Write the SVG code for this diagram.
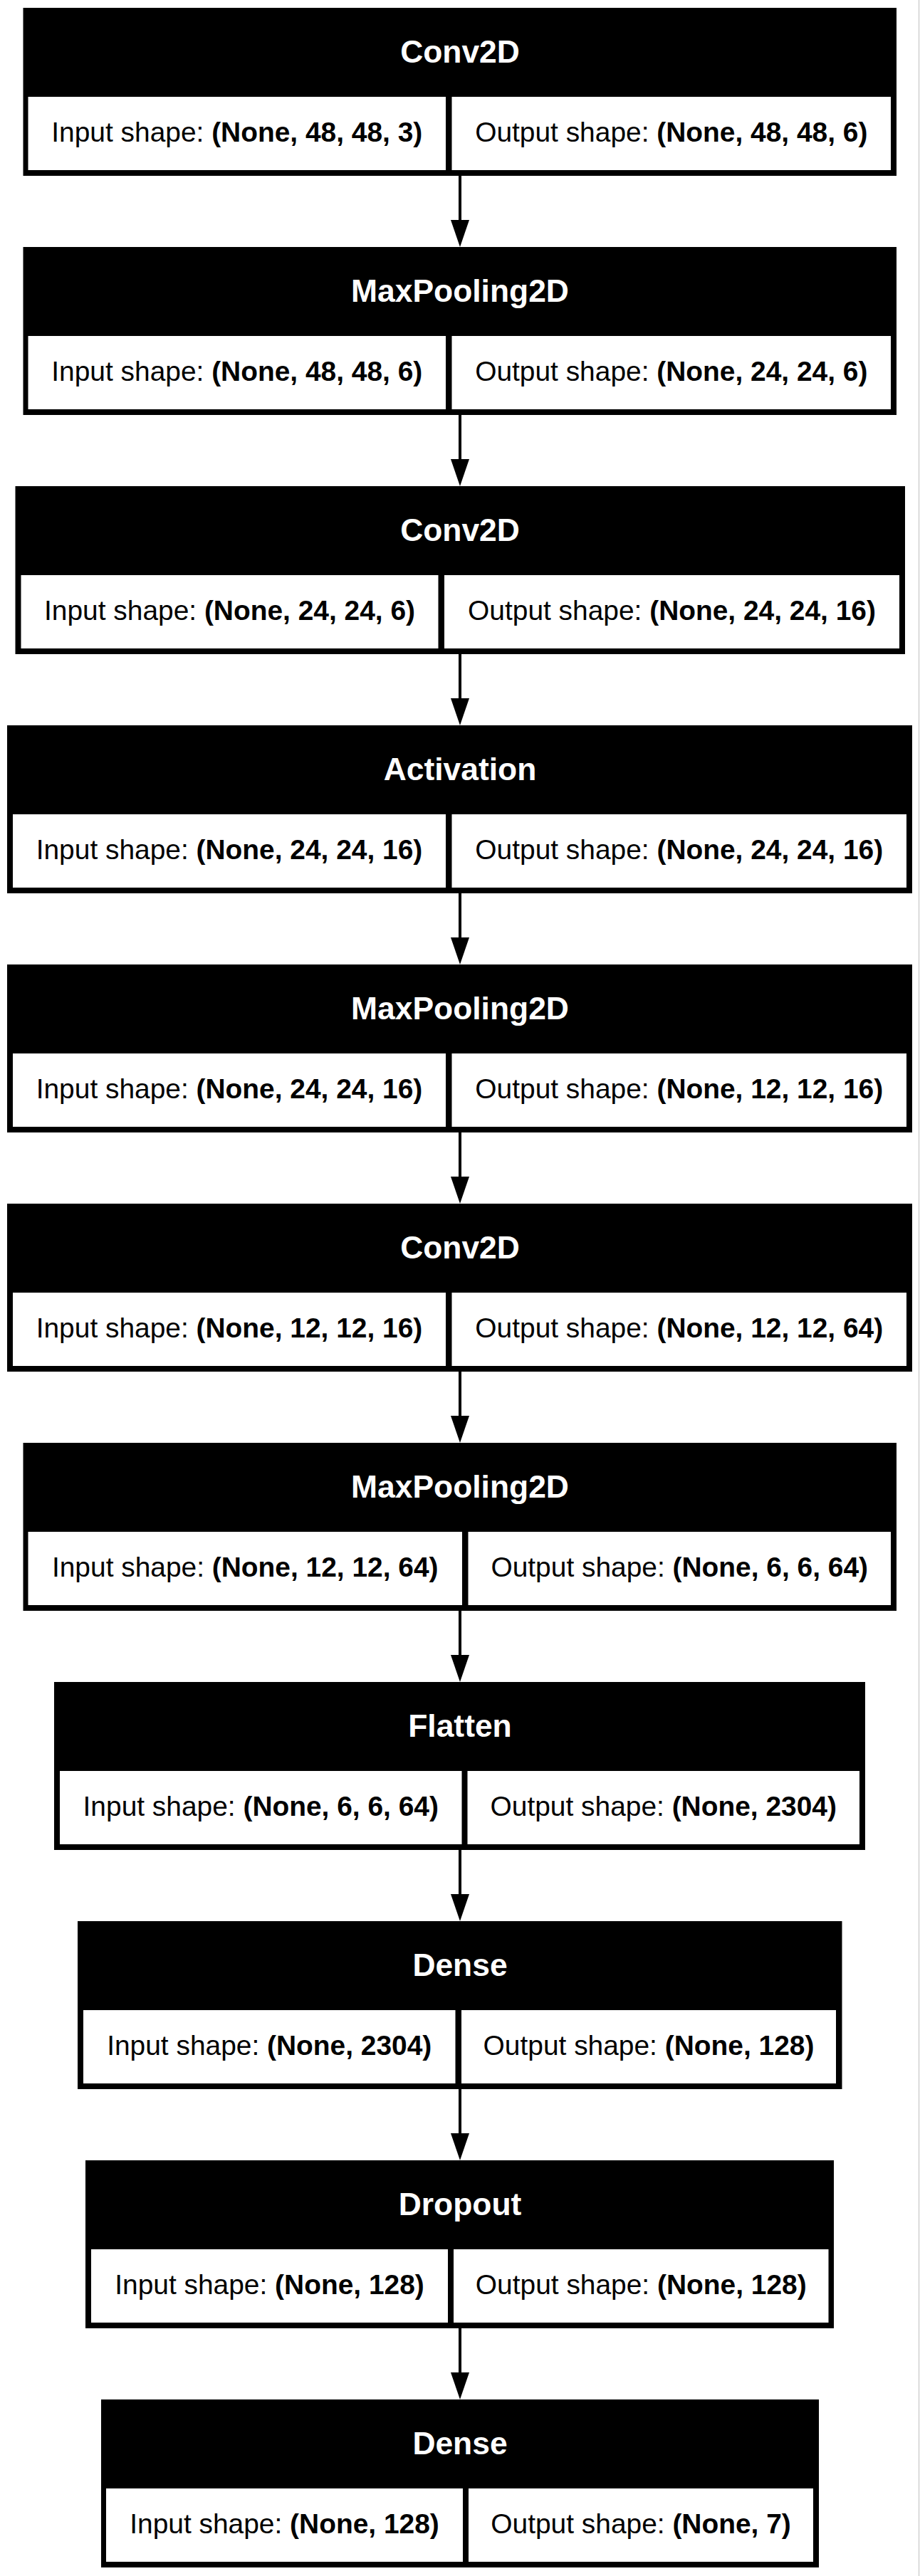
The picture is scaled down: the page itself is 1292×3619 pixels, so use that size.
<svg xmlns="http://www.w3.org/2000/svg" width="1292" height="3619" viewBox="0 0 1292 3619">
<style>
.outer{fill:#000}
.cell{fill:#fff}
.hdr{font-family:"Liberation Sans",Arial,Helvetica,sans-serif;font-size:44.4px;font-weight:bold;fill:#fff;text-anchor:middle}
.txt{font-family:"Liberation Sans",Arial,Helvetica,sans-serif;font-size:38.9px;fill:#000;text-anchor:middle}
.b{font-weight:bold}
.edge{stroke:#000;stroke-width:4;fill:none}
</style>
<defs>
<marker id="ah" markerUnits="userSpaceOnUse" markerWidth="38" markerHeight="26" refX="28" refY="13" orient="auto">
<path d="M0,0 L38,13 L0,26 Z" fill="#000"/>
</marker>
</defs>
<rect x="0" y="0" width="1292" height="3619" fill="#fff"/>
<line x1="1290.5" y1="0" x2="1290.5" y2="3619" stroke="#d0d0d0" stroke-width="1.5"/>
<g id="edges">
<line class="edge" x1="646" y1="247" x2="646" y2="337" marker-end="url(#ah)"/>
<line class="edge" x1="646" y1="583" x2="646" y2="673" marker-end="url(#ah)"/>
<line class="edge" x1="646" y1="919" x2="646" y2="1009" marker-end="url(#ah)"/>
<line class="edge" x1="646" y1="1255" x2="646" y2="1345" marker-end="url(#ah)"/>
<line class="edge" x1="646" y1="1591" x2="646" y2="1681" marker-end="url(#ah)"/>
<line class="edge" x1="646" y1="1927" x2="646" y2="2017" marker-end="url(#ah)"/>
<line class="edge" x1="646" y1="2263" x2="646" y2="2353" marker-end="url(#ah)"/>
<line class="edge" x1="646" y1="2599" x2="646" y2="2689" marker-end="url(#ah)"/>
<line class="edge" x1="646" y1="2935" x2="646" y2="3025" marker-end="url(#ah)"/>
<line class="edge" x1="646" y1="3271" x2="646" y2="3361" marker-end="url(#ah)"/>
</g>
<g id="node1" transform="translate(0,11)">
<rect class="outer" x="32.5" y="0" width="1226.5" height="236"/>
<rect class="cell" x="39.5" y="125" width="586.5" height="103"/>
<rect class="cell" x="634.5" y="125" width="616.5" height="103"/>
<text class="hdr" x="646" y="76.5">Conv2D</text>
<text class="txt" x="332.75" y="188">Input shape: <tspan class="b">(None, 48, 48, 3)</tspan></text>
<text class="txt" x="942.75" y="188">Output shape: <tspan class="b">(None, 48, 48, 6)</tspan></text>
</g>
<g id="node2" transform="translate(0,347)">
<rect class="outer" x="32.5" y="0" width="1226.5" height="236"/>
<rect class="cell" x="39.5" y="125" width="586.5" height="103"/>
<rect class="cell" x="634.5" y="125" width="616.5" height="103"/>
<text class="hdr" x="646" y="76.5">MaxPooling2D</text>
<text class="txt" x="332.75" y="188">Input shape: <tspan class="b">(None, 48, 48, 6)</tspan></text>
<text class="txt" x="942.75" y="188">Output shape: <tspan class="b">(None, 24, 24, 6)</tspan></text>
</g>
<g id="node3" transform="translate(0,683)">
<rect class="outer" x="21.5" y="0" width="1249.5" height="236"/>
<rect class="cell" x="29.5" y="125" width="586" height="103"/>
<rect class="cell" x="624" y="125" width="639" height="103"/>
<text class="hdr" x="646" y="76.5">Conv2D</text>
<text class="txt" x="322.5" y="188">Input shape: <tspan class="b">(None, 24, 24, 6)</tspan></text>
<text class="txt" x="943.5" y="188">Output shape: <tspan class="b">(None, 24, 24, 16)</tspan></text>
</g>
<g id="node4" transform="translate(0,1019)">
<rect class="outer" x="10" y="0" width="1271" height="236"/>
<rect class="cell" x="18" y="125" width="608" height="103"/>
<rect class="cell" x="634.5" y="125" width="638.5" height="103"/>
<text class="hdr" x="646" y="76.5">Activation</text>
<text class="txt" x="322" y="188">Input shape: <tspan class="b">(None, 24, 24, 16)</tspan></text>
<text class="txt" x="953.75" y="188">Output shape: <tspan class="b">(None, 24, 24, 16)</tspan></text>
</g>
<g id="node5" transform="translate(0,1355)">
<rect class="outer" x="10" y="0" width="1271" height="236"/>
<rect class="cell" x="18" y="125" width="608" height="103"/>
<rect class="cell" x="634.5" y="125" width="638.5" height="103"/>
<text class="hdr" x="646" y="76.5">MaxPooling2D</text>
<text class="txt" x="322" y="188">Input shape: <tspan class="b">(None, 24, 24, 16)</tspan></text>
<text class="txt" x="953.75" y="188">Output shape: <tspan class="b">(None, 12, 12, 16)</tspan></text>
</g>
<g id="node6" transform="translate(0,1691)">
<rect class="outer" x="10" y="0" width="1271" height="236"/>
<rect class="cell" x="18" y="125" width="608" height="103"/>
<rect class="cell" x="634.5" y="125" width="638.5" height="103"/>
<text class="hdr" x="646" y="76.5">Conv2D</text>
<text class="txt" x="322" y="188">Input shape: <tspan class="b">(None, 12, 12, 16)</tspan></text>
<text class="txt" x="953.75" y="188">Output shape: <tspan class="b">(None, 12, 12, 64)</tspan></text>
</g>
<g id="node7" transform="translate(0,2027)">
<rect class="outer" x="32.5" y="0" width="1226.5" height="236"/>
<rect class="cell" x="39.5" y="125" width="609.5" height="103"/>
<rect class="cell" x="657.5" y="125" width="593.5" height="103"/>
<text class="hdr" x="646" y="76.5">MaxPooling2D</text>
<text class="txt" x="344.25" y="188">Input shape: <tspan class="b">(None, 12, 12, 64)</tspan></text>
<text class="txt" x="954.25" y="188">Output shape: <tspan class="b">(None, 6, 6, 64)</tspan></text>
</g>
<g id="node8" transform="translate(0,2363)">
<rect class="outer" x="76" y="0" width="1139" height="236"/>
<rect class="cell" x="84" y="125" width="564.5" height="103"/>
<rect class="cell" x="656.5" y="125" width="550.5" height="103"/>
<text class="hdr" x="646" y="76.5">Flatten</text>
<text class="txt" x="366.25" y="188">Input shape: <tspan class="b">(None, 6, 6, 64)</tspan></text>
<text class="txt" x="931.75" y="188">Output shape: <tspan class="b">(None, 2304)</tspan></text>
</g>
<g id="node9" transform="translate(0,2699)">
<rect class="outer" x="109" y="0" width="1073.5" height="236"/>
<rect class="cell" x="117" y="125" width="522.5" height="103"/>
<rect class="cell" x="648" y="125" width="526" height="103"/>
<text class="hdr" x="646" y="76.5">Dense</text>
<text class="txt" x="378.25" y="188">Input shape: <tspan class="b">(None, 2304)</tspan></text>
<text class="txt" x="911" y="188">Output shape: <tspan class="b">(None, 128)</tspan></text>
</g>
<g id="node10" transform="translate(0,3035)">
<rect class="outer" x="120" y="0" width="1051" height="236"/>
<rect class="cell" x="128" y="125" width="501" height="103"/>
<rect class="cell" x="637" y="125" width="526.5" height="103"/>
<text class="hdr" x="646" y="76.5">Dropout</text>
<text class="txt" x="378.5" y="188">Input shape: <tspan class="b">(None, 128)</tspan></text>
<text class="txt" x="900.25" y="188">Output shape: <tspan class="b">(None, 128)</tspan></text>
</g>
<g id="node11" transform="translate(0,3371)">
<rect class="outer" x="142" y="0" width="1008" height="236"/>
<rect class="cell" x="149" y="125" width="501" height="103"/>
<rect class="cell" x="658" y="125" width="484" height="103"/>
<text class="hdr" x="646" y="76.5">Dense</text>
<text class="txt" x="399.5" y="188">Input shape: <tspan class="b">(None, 128)</tspan></text>
<text class="txt" x="900" y="188">Output shape: <tspan class="b">(None, 7)</tspan></text>
</g>
</svg>
